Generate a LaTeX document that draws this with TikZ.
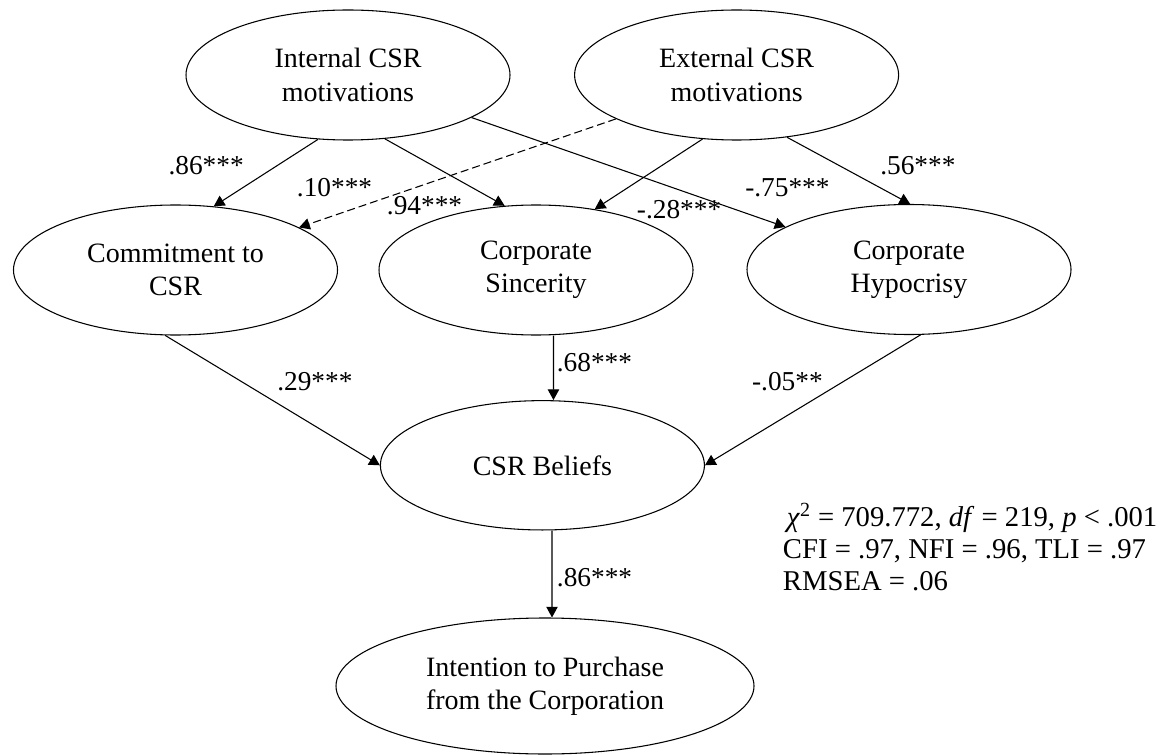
\documentclass[tikz,border=0pt]{standalone}
\usepackage{fontspec}
\setmainfont{Liberation Serif}
\usetikzlibrary{shapes.geometric,arrows.meta}
\begin{document}
\begin{tikzpicture}[x=0.75pt,y=-0.75pt,
  latent/.style={draw, ellipse, line width=0.8pt, inner sep=0pt, align=center,
    font=\fontsize{21}{25}\selectfont, minimum width=243pt, minimum height=97.5pt},
  path/.style={draw, line width=0.8pt, -{Triangle[length=8pt,width=8.5pt]}},
  weak/.style={dash pattern=on 6pt off 3pt},
  coef/.style={anchor=base west, inner sep=0pt, font=\fontsize{20.5}{24}\selectfont},
  fitstat/.style={anchor=base west, inner sep=0pt, font=\fontsize{21.5}{25}\selectfont}]
\useasboundingbox (0,0) rectangle (1162,755);

% latent constructs
\node[latent] (int) at (348,75) {Internal CSR\\motivations};
\node[latent] (ext) at (736.6,75) {External CSR\\motivations};
\node[latent] (com) at (175.5,270) {Commitment to\\CSR};
\node[latent, minimum width=235.5pt] (sin) at (536,270) {Corporate\\Sincerity};
\node[latent] (hyp) at (909,269.5) {Corporate\\Hypocrisy};
\node[latent, minimum height=97pt] (bel) at (542.4,465.3) {CSR Beliefs};
\node[latent, minimum width=313.5pt, minimum height=102pt] (pur) at (545,686)
  {Intention to Purchase\\from the Corporation};

% structural paths
\draw[path] (int.-115.8) -- (com.59.5);
\draw[path] (int.-60.9) -- (sin.116.6);
\draw[path] (int.-19.7) -- (hyp.161.8);
\draw[path, weak] (ext.200.1) -- (com.19.9);
\draw[path] (ext.-118) -- (sin.46.2);
\draw[path] (ext.-51.1) -- (hyp.89);
\draw[path] (com.-99.4) -- (bel.west);
\draw[path] ([xshift=13.1pt]sin.south) -- ([xshift=8.3pt]bel.north);
\draw[path] (hyp.-80.2) -- (bel.east);
\draw[path] ([xshift=7.2pt]bel.south) -- ([xshift=5.25pt]pur.north);

% path coefficients
\node[coef] (c1) at (168.3,175) {.86***};
\node[coef] (c2) at (296.7,196.7) {.10***};
\node[coef] (c3) at (386.7,215) {.94***};
\node[coef] (c4) at (880,175) {.56***};
\node[coef] (c5) at (745,196.7) {-.75***};
\node[coef] (c6) at (636.7,218.3) {-.28***};
\node[coef] (c7) at (277,390) {.29***};
\node[coef] (c8) at (556.6,371.7) {.68***};
\node[coef] (c9) at (751.8,390) {-.05**};
\node[coef] (c10) at (556.7,586.7) {.86***};

% model fit
\node[fitstat] (f1) at (786.7,526.7) {\textit{χ}\textsuperscript{2} = 709.772, \textit{df} = 219, \textit{p} < .001};
\node[fitstat] (f2) at (782.7,558.3) {CFI = .97, NFI = .96, TLI = .97};
\node[fitstat] (f3) at (782.7,590) {RMSEA = .06};
\end{tikzpicture}
\end{document}
